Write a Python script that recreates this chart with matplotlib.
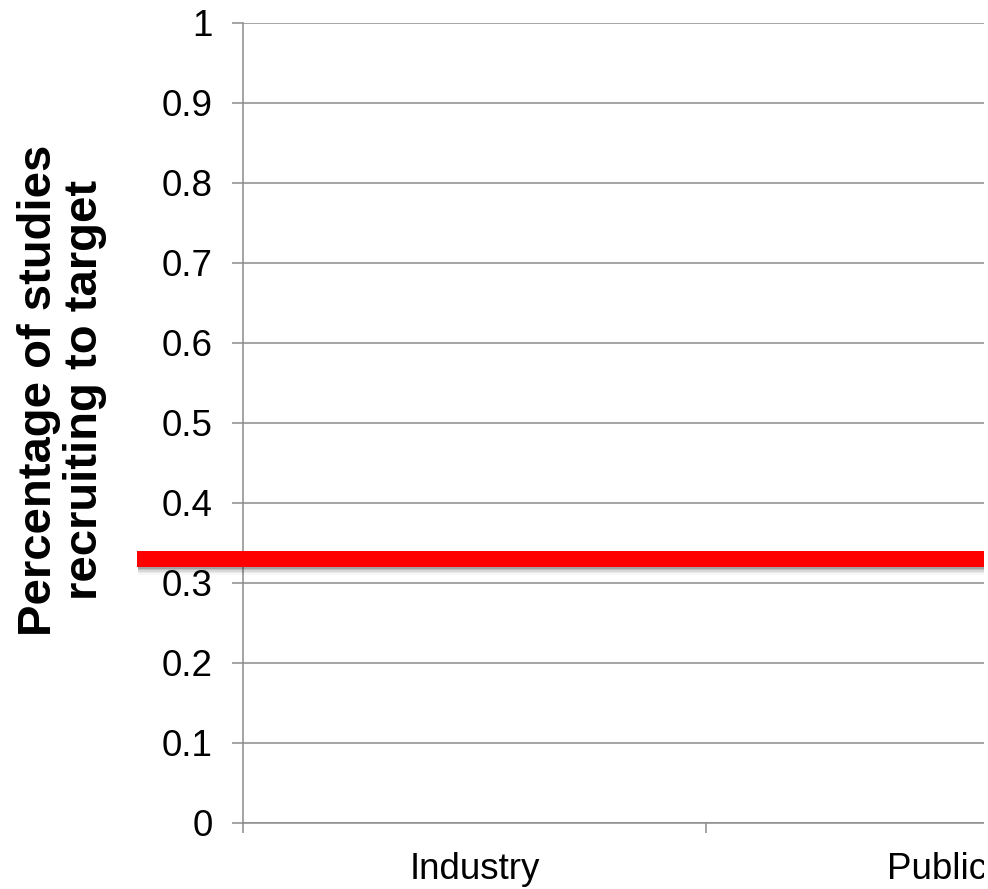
import matplotlib
matplotlib.use("Agg")
import matplotlib.pyplot as plt
import matplotlib.patheffects as pe
import matplotlib.transforms as mtransforms
from matplotlib.patches import Rectangle
import numpy as np

categories = ["Industry", "Public"]
y_ticks = [0, 0.1, 0.2, 0.3, 0.4, 0.5, 0.6, 0.7, 0.8, 0.9, 1]
y_tick_labels = ["0", "0.1", "0.2", "0.3", "0.4", "0.5", "0.6", "0.7", "0.8", "0.9", "1"]
target_share = 0.33
y_label = "Percentage of studies\nrecruiting to target"

plt.rcParams["font.family"] = ["Liberation Sans", "DejaVu Sans"]

W, H = 988, 889
fig = plt.figure(figsize=(W / 100, H / 100), dpi=100)
fig.patch.set_facecolor("white")

left_px, right_px = 243, 1169
top_px, bottom_px = 22.7, 823
ax = fig.add_axes([left_px / W, 1 - bottom_px / H,
                   (right_px - left_px) / W, (bottom_px - top_px) / H])

grey = "#8c8c8c"
n = len(categories)
ax.set_xlim(-0.5, n - 0.5)
ax.set_ylim(0, 1)

ax.set_yticks(y_ticks)
ax.set_yticklabels(y_tick_labels)
ax.yaxis.grid(True, color=grey, linewidth=1.1)
ax.set_axisbelow(True)

# category boundaries carry the tick marks, labels sit at the centres
ax.set_xticks(np.arange(-0.5, n, 1.0))
ax.set_xticklabels([])
ax.set_xticks(np.arange(n), minor=True)
ax.set_xticklabels(categories, minor=True)
ax.tick_params(axis="x", which="major", length=7.5, width=1.1, color=grey, direction="out")
ax.tick_params(axis="x", which="minor", length=0, pad=21, labelsize=26.5)
ax.tick_params(axis="y", length=8, width=1.1, color=grey, direction="out", pad=14, labelsize=26.5)

for side in ("top", "right"):
    ax.spines[side].set_visible(False)
for side in ("left", "bottom"):
    ax.spines[side].set_color(grey)
    ax.spines[side].set_linewidth(1.1)

# target line with a soft drop shadow
trans = mtransforms.blended_transform_factory(ax.transAxes, ax.transData)
shadow = [pe.SimpleLineShadow(offset=(0.5, -d), shadow_color="black", alpha=a)
          for d, a in [(1.5, 0.14), (2.5, 0.11), (3.5, 0.08), (4.5, 0.05), (5.5, 0.03)]]
ax.plot([-0.1145, 1.0], [target_share, target_share], transform=trans,
        color="#ff0000", linewidth=11.5, solid_capstyle="butt", clip_on=False,
        zorder=5, path_effects=shadow + [pe.Normal()])

fig.text(62 / W, 1 - 390 / H, y_label, rotation=90, ha="center", va="center",
         multialignment="center", fontsize=34, fontweight="bold", linespacing=1.05)

fig.patches.append(Rectangle((984 / W, 0), 4 / W, 1, transform=fig.transFigure,
                             facecolor="white", edgecolor="none", zorder=10))

fig.savefig("out.png", dpi=100, facecolor="white")
